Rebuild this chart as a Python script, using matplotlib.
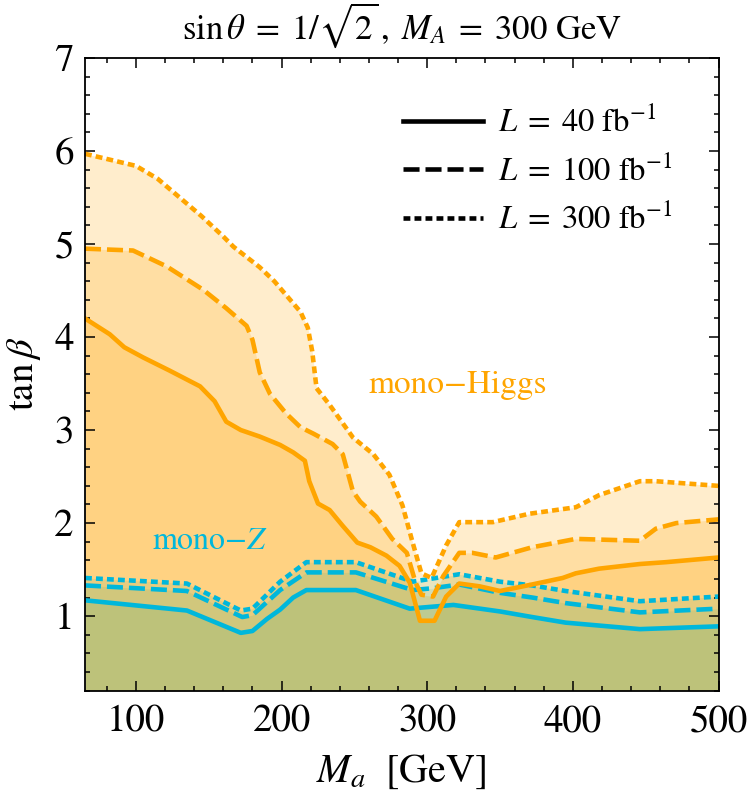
import matplotlib
matplotlib.use("Agg")
import matplotlib.pyplot as plt
from matplotlib.lines import Line2D
from matplotlib.ticker import MultipleLocator

plt.rcParams['font.family'] = ['STIXGeneral', 'DejaVu Serif']
plt.rcParams['mathtext.fontset'] = 'stix'

# ---- data: mono-Higgs (orange) ----
higgs40_x = [65, 82, 92, 105, 123, 144, 154, 162, 172, 185, 199, 208, 216, 219, 225, 233, 242, 252, 261, 272,
             281, 288, 295, 305, 313, 322, 336, 350, 372, 393, 402, 418, 446, 464, 500]
higgs40_y = [4.2, 4.03, 3.89, 3.78, 3.64, 3.47, 3.31, 3.09, 3.0, 2.93, 2.84, 2.76, 2.67, 2.45, 2.21, 2.14, 1.97,
             1.79, 1.74, 1.65, 1.54, 1.36, 0.95, 0.95, 1.21, 1.35, 1.32, 1.27, 1.34, 1.41, 1.46, 1.51, 1.56, 1.58, 1.63]

higgs100_x = [65, 98, 121, 146, 162, 176, 180, 185, 192, 203, 213, 222, 235, 242, 249, 254, 265, 276, 286, 292,
              296, 304, 311, 322, 331, 347, 372, 402, 446, 457, 471, 500]
higgs100_y = [4.95, 4.93, 4.76, 4.51, 4.31, 4.12, 3.97, 3.62, 3.39, 3.18, 3.03, 2.96, 2.85, 2.74, 2.34, 2.23, 2.07,
              1.83, 1.68, 1.36, 1.23, 1.21, 1.43, 1.68, 1.68, 1.63, 1.74, 1.83, 1.81, 1.94, 2.0, 2.04]

higgs300_x = [65, 100, 115, 130, 145, 160, 167, 185, 195, 213, 218, 221, 224, 233, 249, 263, 274, 283, 290, 296,
              303, 313, 322, 345, 370, 402, 418, 446, 457, 500]
higgs300_y = [5.97, 5.84, 5.7, 5.5, 5.3, 5.08, 4.97, 4.75, 4.6, 4.27, 4.1, 3.85, 3.45, 3.27, 2.92, 2.74, 2.52, 2.19,
              1.79, 1.46, 1.41, 1.76, 2.01, 2.01, 2.1, 2.17, 2.3, 2.45, 2.45, 2.4]

# ---- data: mono-Z (cyan) ----
z40_x = [65, 135, 172, 180, 190, 199, 208, 217, 251, 288, 295, 318, 350, 372, 395, 446, 500]
z40_y = [1.17, 1.06, 0.82, 0.84, 0.97, 1.07, 1.2, 1.28, 1.28, 1.08, 1.09, 1.12, 1.05, 0.99, 0.93, 0.86, 0.89]

z100_x = [65, 135, 173, 180, 199, 217, 251, 290, 304, 322, 350, 372, 395, 446, 500]
z100_y = [1.33, 1.27, 0.99, 1.01, 1.28, 1.47, 1.47, 1.28, 1.3, 1.34, 1.25, 1.2, 1.14, 1.04, 1.08]

z300_x = [65, 135, 172, 180, 199, 217, 251, 290, 322, 350, 372, 395, 446, 500]
z300_y = [1.41, 1.35, 1.06, 1.08, 1.37, 1.58, 1.58, 1.37, 1.45, 1.37, 1.33, 1.27, 1.16, 1.21]

lumi_labels = [r"$L\;=\;40\ \mathrm{fb}^{-1}$", r"$L\;=\;100\ \mathrm{fb}^{-1}$", r"$L\;=\;300\ \mathrm{fb}^{-1}$"]

ORANGE = "#FFA500"
CYAN = "#00B7DB"
ORANGE_FILL = (1.0, 0.65, 0.0)
CYAN_FILL = (0.0, 0.60, 0.41)
YMIN, YMAX = 0.2, 7.0

fig = plt.figure(figsize=(7.5, 8.05), dpi=100)
ax = fig.add_axes([0.1133, 0.1422, 0.8447, 0.7858])

# fills
for xs, ys in [(higgs300_x, higgs300_y), (higgs100_x, higgs100_y), (higgs40_x, higgs40_y)]:
    ax.fill_between(xs, YMIN, ys, color=ORANGE_FILL, alpha=0.2, lw=0)
for xs, ys in [(z300_x, z300_y), (z100_x, z100_y), (z40_x, z40_y)]:
    ax.fill_between(xs, YMIN, ys, color=CYAN_FILL, alpha=0.093, lw=0)

solid = dict(ls='-')
dashed = dict(ls=(0, (3.5, 1.3)), dash_capstyle='butt')
dotted = dict(ls=(0, (1.5, 0.9)), dash_capstyle='butt')
LW = 3.3

ax.plot(z40_x, z40_y, color=CYAN, lw=LW, **solid)
ax.plot(z100_x, z100_y, color=CYAN, lw=LW, **dashed)
ax.plot(z300_x, z300_y, color=CYAN, lw=LW, **dotted)
ax.plot(higgs40_x, higgs40_y, color=ORANGE, lw=LW, **solid)
ax.plot(higgs100_x, higgs100_y, color=ORANGE, lw=LW, **dashed)
ax.plot(higgs300_x, higgs300_y, color=ORANGE, lw=LW, **dotted)

ax.set_xlim(65, 500)
ax.set_ylim(YMIN, YMAX)

ax.xaxis.set_major_locator(MultipleLocator(100))
ax.xaxis.set_minor_locator(MultipleLocator(20))
ax.yaxis.set_major_locator(MultipleLocator(1))
ax.yaxis.set_minor_locator(MultipleLocator(0.2))
ax.tick_params(which='both', direction='in', top=True, right=True, width=1.1, labelsize=28)
ax.tick_params(which='major', length=7)
ax.tick_params(which='minor', length=3.8)
ax.tick_params(axis='x', pad=10)
ax.tick_params(axis='y', pad=8)
for s in ax.spines.values():
    s.set_linewidth(1.3)

ax.set_xlabel(r"$M_a\ \ [\mathrm{GeV}]$", fontsize=29, labelpad=10)
ax.set_ylabel(r"$\tan\beta$", fontsize=28, labelpad=8)
ax.set_title(r"$\sin\theta\;=\;1/\sqrt{2}\,,\;M_A\;=\;300\ \mathrm{GeV}$", fontsize=25, pad=14)

ax.text(321, 3.48, "mono\u2212Higgs", color=ORANGE, fontsize=24, ha='center', va='center')
ax.text(151, 1.8, r"mono$-Z$", color=CYAN, fontsize=23, ha='center', va='center')

handles = [Line2D([], [], color='black', lw=LW, **solid),
           Line2D([], [], color='black', lw=LW, **dashed),
           Line2D([], [], color='black', lw=LW, **dotted)]
ax.legend(handles, lumi_labels, loc='upper left', bbox_to_anchor=(0.502, 0.922), frameon=False,
          borderpad=0, borderaxespad=0,
          fontsize=23.5, handlelength=2.45, handletextpad=0.45, labelspacing=0.5)

fig.savefig("out.png", dpi=100)
